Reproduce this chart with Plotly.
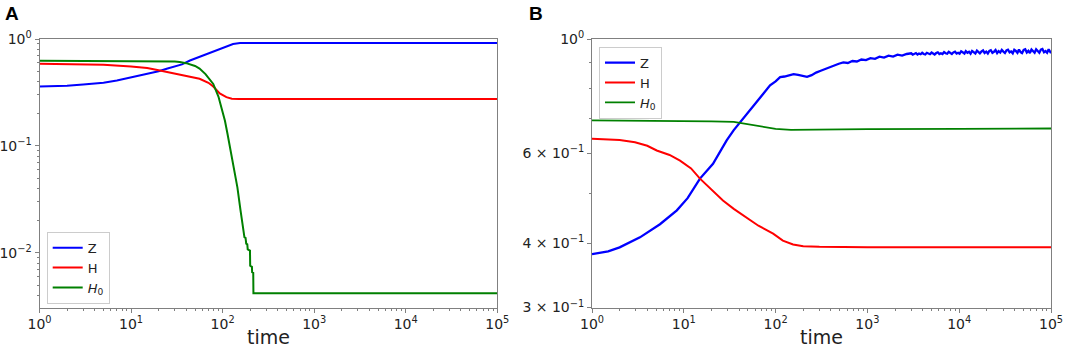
import plotly.graph_objects as go

# ---------------- Panel A data ----------------
t_Z_A = [1, 2, 3, 5, 7, 10, 15, 20, 25, 30, 36, 44, 55, 67, 80, 93, 110, 130, 155, 200, 1000, 100000]
Z_A = [0.36, 0.365, 0.375, 0.39, 0.41, 0.44, 0.47, 0.50, 0.53, 0.555, 0.58, 0.63, 0.68, 0.725, 0.77, 0.81, 0.86, 0.90, 0.918, 0.92, 0.92, 0.92]

t_H_A = [1, 3, 5, 10, 15, 20, 34, 56, 70, 79, 93, 110, 126, 150, 1000, 100000]
H_A = [0.588, 0.58, 0.575, 0.555, 0.535, 0.51, 0.463, 0.425, 0.39, 0.36, 0.31, 0.286, 0.276, 0.275, 0.275, 0.275]

t_H0_A = [1, 5, 10, 20, 30, 34, 40, 50, 56, 65, 79, 90, 101, 106, 113, 120, 126, 135, 145, 157, 165, 173,
          178, 181, 186, 188, 199, 200, 209, 210, 216, 217, 1000, 100000]
H0_A = [0.627, 0.626, 0.625, 0.62, 0.615, 0.61, 0.595, 0.56, 0.53, 0.47, 0.38, 0.29, 0.20, 0.172, 0.13, 0.098, 0.084, 0.06, 0.041, 0.0248, 0.019, 0.014,
        0.0138, 0.0122, 0.012, 0.0108, 0.0105, 0.0076, 0.0074, 0.0066, 0.0065, 0.0042, 0.0042, 0.0042]

# ---------------- Panel B data ----------------
# Z (noisy stochastic trace): early rise, plateau, then noisy slow approach
t_Z_B_early = [1, 1.5, 2, 3.33, 5.5, 8.4, 11, 15, 20.8, 25, 29.3, 35, 42.7, 55, 68, 87]
Z_B_early = [0.381, 0.386, 0.393, 0.411, 0.436, 0.464, 0.49, 0.535, 0.572, 0.605, 0.635, 0.665, 0.695, 0.735, 0.772, 0.813]

t_Z_B_mid = [100, 112, 125, 140, 157, 176, 197, 220, 247, 276, 310, 347, 389, 436, 488, 547, 612, 686, 768, 861,
             964, 1080, 1210, 1355, 1518, 1700, 1905, 2130, 2390, 2680]
Z_B_mid = [0.828, 0.844, 0.846, 0.851, 0.855, 0.852, 0.849, 0.845, 0.851, 0.861, 0.868, 0.875, 0.884, 0.892, 0.896,
           0.901, 0.899, 0.907, 0.905, 0.913, 0.911, 0.919, 0.916, 0.925, 0.921, 0.929, 0.925, 0.933, 0.929, 0.936]

t_Z_B_late = [3000, 3120, 3250, 3380, 3510, 3650, 3800, 3950, 4110, 4270,
              4440, 4620, 4800, 5000, 5200, 5400, 5620, 5850, 6080, 6320,
              6580, 6840, 7110, 7400, 7690, 8000, 8320, 8650, 9000, 9360,
              9730, 10100, 10500, 10900, 11400, 11800, 12300, 12800, 13300, 13800,
              14400, 15000, 15600, 16200, 16800, 17500, 18200, 18900, 19700, 20500,
              21300, 22100, 23000, 23900, 24900, 25900, 26900, 28000, 29100, 30300,
              31500, 32700, 34000, 35400, 36800, 38300, 39800, 41400, 43100, 44800,
              46600, 48400, 50400, 52400, 54500, 56700, 58900, 61300, 63700, 66300,
              68900, 71700, 74600, 77500, 80600, 83900, 87200, 90700, 94300, 98100,
              100000]
Z_B_late = [0.939, 0.933, 0.937, 0.940, 0.934, 0.938, 0.935, 0.941, 0.936, 0.934,
            0.941, 0.937, 0.935, 0.942, 0.938, 0.934, 0.940, 0.943, 0.936, 0.939,
            0.936, 0.944, 0.939, 0.937, 0.945, 0.940, 0.936, 0.943, 0.946, 0.938,
            0.941, 0.937, 0.947, 0.943, 0.938, 0.948, 0.941, 0.945, 0.937, 0.949,
            0.942, 0.938, 0.950, 0.944, 0.939, 0.947, 0.951, 0.940, 0.946, 0.938,
            0.949, 0.952, 0.941, 0.945, 0.953, 0.940, 0.948, 0.942, 0.953, 0.946,
            0.940, 0.951, 0.954, 0.943, 0.947, 0.939, 0.954, 0.949, 0.941, 0.955,
            0.944, 0.940, 0.953, 0.956, 0.942, 0.949, 0.940, 0.955, 0.947, 0.941,
            0.956, 0.950, 0.941, 0.954, 0.957, 0.943, 0.948, 0.941, 0.956, 0.945,
            0.950]

t_Z_B = t_Z_B_early + t_Z_B_mid + t_Z_B_late
Z_B = Z_B_early + Z_B_mid + Z_B_late

t_H_B = [1, 2, 2.94, 4, 5.07, 7, 9.1, 12, 15, 20, 26.7, 35, 48, 65, 94, 120, 155, 200, 300, 1000, 10000, 100000]
H_B = [0.64, 0.636, 0.63, 0.62, 0.607, 0.595, 0.58, 0.56, 0.535, 0.51, 0.485, 0.467, 0.45, 0.433, 0.418, 0.405, 0.398, 0.395, 0.394, 0.393, 0.393, 0.393]

t_H0_B = [1, 10, 20, 35, 50, 75, 100, 147, 300, 1000, 10000, 100000]
H0_B = [0.695, 0.694, 0.692, 0.69, 0.683, 0.674, 0.669, 0.666, 0.667, 0.668, 0.669, 0.67]

# ---------------- ticks ----------------
x_tickvals = [1, 10, 100, 1000, 10000, 100000]
x_ticktext = ["10<sup>0</sup>", "10<sup>1</sup>", "10<sup>2</sup>", "10<sup>3</sup>", "10<sup>4</sup>", "10<sup>5</sup>"]
yA_tickvals = [0.01, 0.1, 1]
yA_ticktext = ["10<sup>−2</sup>", "10<sup>−1</sup>", "10<sup>0</sup>"]
yB_tickvals = [0.3, 0.4, 0.6, 1]
yB_ticktext = ["3 × 10<sup>−1</sup>", "4 × 10<sup>−1</sup>", "6 × 10<sup>−1</sup>", "10<sup>0</sup>"]

series_names = ["Z", "H", "<i>H</i><sub>0</sub>"]
colors = ["#0000ff", "#ff0000", "#008000"]


def minor_vals(lo_exp, hi_exp):
    out = []
    for e in range(lo_exp, hi_exp):
        for m in range(2, 10):
            out.append(m * 10.0 ** e)
    return out


fig = go.Figure()
for i, (tx, ty) in enumerate([(t_Z_A, Z_A), (t_H_A, H_A), (t_H0_A, H0_A)]):
    fig.add_trace(go.Scatter(x=tx, y=ty, mode="lines", name=series_names[i],
                             line=dict(color=colors[i], width=2),
                             xaxis="x", yaxis="y", legend="legend"))
for i, (tx, ty) in enumerate([(t_Z_B, Z_B), (t_H_B, H_B), (t_H0_B, H0_B)]):
    fig.add_trace(go.Scatter(x=tx, y=ty, mode="lines", name=series_names[i],
                             line=dict(color=colors[i], width=2.3 if i == 0 else (2 if i == 1 else 1.8)),
                             xaxis="x2", yaxis="y2", legend="legend2"))

W, H = 1065, 350
font_family = "DejaVu Sans, Arial, sans-serif"
axis_col = "#808080"
ydom = [1 - 307.5 / H, 1 - 39 / H]

common_x = dict(type="log", range=[0, 5], tickvals=x_tickvals, ticktext=x_ticktext,
                ticks="outside", ticklen=4, tickwidth=1, tickcolor=axis_col,
                showline=True, linecolor=axis_col, linewidth=1, mirror=True,
                showgrid=False, zeroline=False, automargin=False,
                tickfont=dict(size=14, color="#222", family=font_family),
                minor=dict(tickvals=minor_vals(0, 5), ticks="outside", ticklen=2, tickcolor=axis_col, showgrid=False))
common_y = dict(type="log", ticks="outside", ticklen=4, tickcolor=axis_col,
                showline=True, linecolor=axis_col, linewidth=1, mirror=True,
                showgrid=False, zeroline=False, automargin=False,
                tickfont=dict(size=14, color="#222", family=font_family))

legend_style = dict(xanchor="left", yanchor="top",
                    bgcolor="rgba(255,255,255,0.85)", bordercolor="#cccccc", borderwidth=1,
                    font=dict(size=13, family=font_family, color="#222"),
                    itemwidth=30, traceorder="normal")

fig.update_layout(
    width=W, height=H,
    margin=dict(l=0, r=0, t=0, b=0, autoexpand=False),
    paper_bgcolor="white", plot_bgcolor="white",
    font=dict(family=font_family, color="#222"),
    xaxis=dict(domain=[39.5 / W, 497.3 / W], anchor="y", **common_x),
    xaxis2=dict(domain=[592 / W, 1051 / W], anchor="y2", **common_x),
    yaxis=dict(domain=ydom, anchor="x", range=[-2.511, 0.0005],
               tickvals=yA_tickvals, ticktext=yA_ticktext,
               minor=dict(tickvals=minor_vals(-3, 0), ticks="outside", ticklen=2, tickcolor=axis_col, showgrid=False),
               **common_y),
    yaxis2=dict(domain=ydom, anchor="x2", range=[-0.5229, 0.0005],
                tickvals=yB_tickvals, ticktext=yB_ticktext,
                minor=dict(tickvals=[0.5, 0.7, 0.8, 0.9], ticks="outside", ticklen=2, tickcolor=axis_col, showgrid=False),
                **common_y),
    legend=dict(x=46.7 / W, y=1 - 231.7 / H, **legend_style),
    legend2=dict(x=599 / W, y=1 - 46.7 / H, **legend_style),
    showlegend=True,
    annotations=[
        dict(text="<b>A</b>", x=3 / W, y=1 - 1 / H, xref="paper", yref="paper", xanchor="left", yanchor="top",
             showarrow=False, font=dict(size=19, family="Liberation Sans, Arial, sans-serif", color="black")),
        dict(text="<b>B</b>", x=527 / W, y=1 - 1 / H, xref="paper", yref="paper", xanchor="left", yanchor="top",
             showarrow=False, font=dict(size=19, family="Liberation Sans, Arial, sans-serif", color="black")),
        dict(text="time", x=(39.5 + 497.3) / 2 / W, y=0, xref="paper", yref="paper", xanchor="center", yanchor="bottom",
             showarrow=False, font=dict(size=19, family=font_family, color="#222")),
        dict(text="time", x=(592 + 1051) / 2 / W, y=0, xref="paper", yref="paper", xanchor="center", yanchor="bottom",
             showarrow=False, font=dict(size=19, family=font_family, color="#222")),
    ],
)

fig.write_html("out.html", config={"displayModeBar": False},
               post_script="document.body.style.margin='0px';document.body.style.padding='0px';document.body.style.overflow='hidden';")
